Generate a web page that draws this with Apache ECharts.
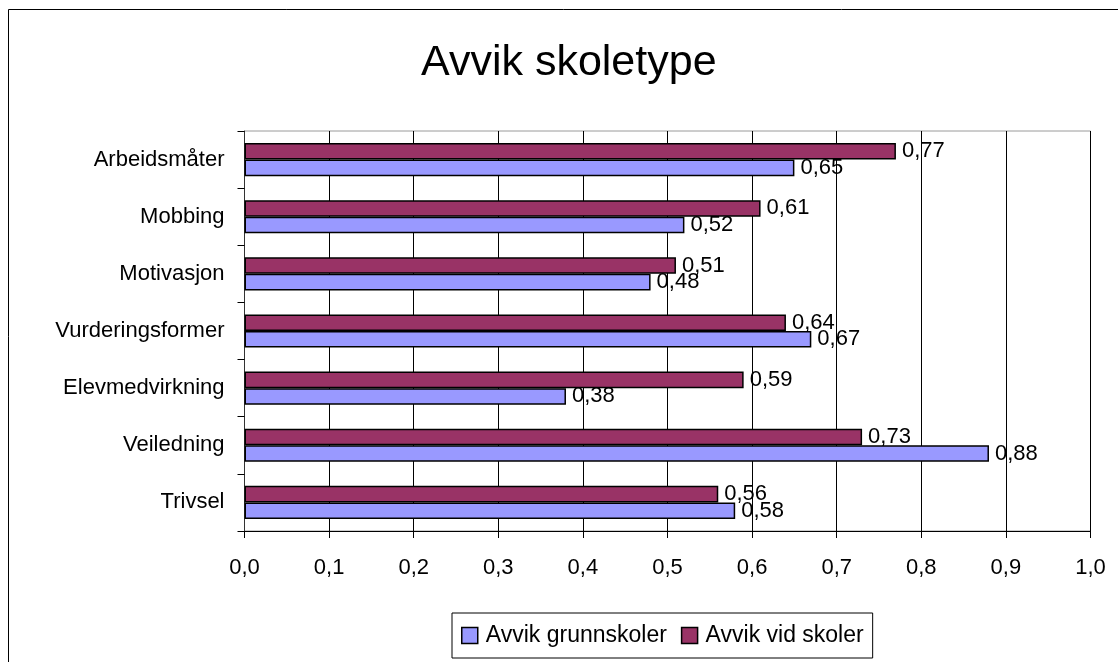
<!DOCTYPE html>
<html>
<head>
<meta charset="utf-8">
<script src="https://cdn.jsdelivr.net/npm/echarts@6/dist/echarts.min.js"></script>
<style>
  html, body { margin: 0; padding: 0; background: #fff; }
  #main { width: 1118px; height: 662px; }
</style>
</head>
<body>
<div id="main"></div>
<script>
var myChart = echarts.init(document.getElementById('main'));

// categories, bottom to top as ECharts draws a y category axis
var categories = ['Trivsel', 'Veiledning', 'Elevmedvirkning', 'Vurderingsformer', 'Motivasjon', 'Mobbing', 'Arbeidsmåter'];
var grunnskoler = [0.58, 0.88, 0.38, 0.67, 0.48, 0.52, 0.65];
var vidSkoler   = [0.56, 0.73, 0.59, 0.64, 0.51, 0.61, 0.77];
var seriesNames = ['Avvik grunnskoler', 'Avvik vid skoler'];

var font = 'Liberation Sans';

function comma(v, d) {
    return v.toFixed(d).replace('.', ',');
}

var barLabel = {
    show: true,
    position: 'right',
    distance: 6,
    color: '#000',
    fontFamily: font,
    fontSize: 22,
    formatter: function (p) { return comma(p.value, 2); }
};

var option = {
    backgroundColor: '#fff',
    textStyle: { fontFamily: font },
    graphic: [{
        type: 'rect',
        shape: { x: 8.5, y: 9.5, width: 1200, height: 700 },
        style: { fill: 'none', stroke: '#000', lineWidth: 1 },
        silent: true
    }],
    title: {
        text: 'Avvik skoletype',
        left: 421,
        top: 42,
        padding: 0,
        textStyle: { fontFamily: font, fontSize: 43, fontWeight: 'normal', color: '#000' }
    },
    legend: {
        data: seriesNames,
        left: 452,
        top: 613,
        padding: [11, 9, 11, 9],
        itemWidth: 16,
        itemHeight: 16,
        itemGap: 14,
        icon: 'rect',
        borderColor: '#000',
        borderWidth: 1,
        itemStyle: { borderColor: '#000', borderWidth: 1.5 },
        textStyle: { fontFamily: font, fontSize: 23, color: '#000', padding: [0, 0, 0, 3] }
    },
    grid: {
        left: 244.5,
        top: 131,
        right: 27.5,
        bottom: 131,
        show: true,
        borderColor: '#9a9a9a',
        borderWidth: 1
    },
    xAxis: {
        type: 'value',
        min: 0,
        max: 1,
        interval: 0.1,
        axisLine: { show: true, lineStyle: { color: '#000' } },
        axisTick: { show: true, length: 7, lineStyle: { color: '#000' } },
        splitLine: { show: true, lineStyle: { color: '#000', width: 1 } },
        axisLabel: {
            margin: 26,
            color: '#000',
            fontFamily: font,
            fontSize: 22,
            formatter: function (v) { return comma(v, 1); }
        }
    },
    yAxis: {
        type: 'category',
        data: categories,
        axisLine: { show: true, lineStyle: { color: '#333' } },
        axisTick: { show: true, length: 7, lineStyle: { color: '#000' } },
        axisLabel: { margin: 20, color: '#000', fontFamily: font, fontSize: 22 }
    },
    series: [
        {
            name: seriesNames[1],
            type: 'bar',
            data: vidSkoler,
            barGap: '0%',
            barCategoryGap: '42%',
            itemStyle: { color: '#993366', borderColor: '#000', borderWidth: 1.5 },
            label: barLabel
        },
        {
            name: seriesNames[0],
            type: 'bar',
            data: grunnskoler,
            barGap: '0%',
            barCategoryGap: '42%',
            itemStyle: { color: '#9999FF', borderColor: '#000', borderWidth: 1.5 },
            label: barLabel
        }
    ]
};

myChart.setOption(option);
</script>
</body>
</html>
